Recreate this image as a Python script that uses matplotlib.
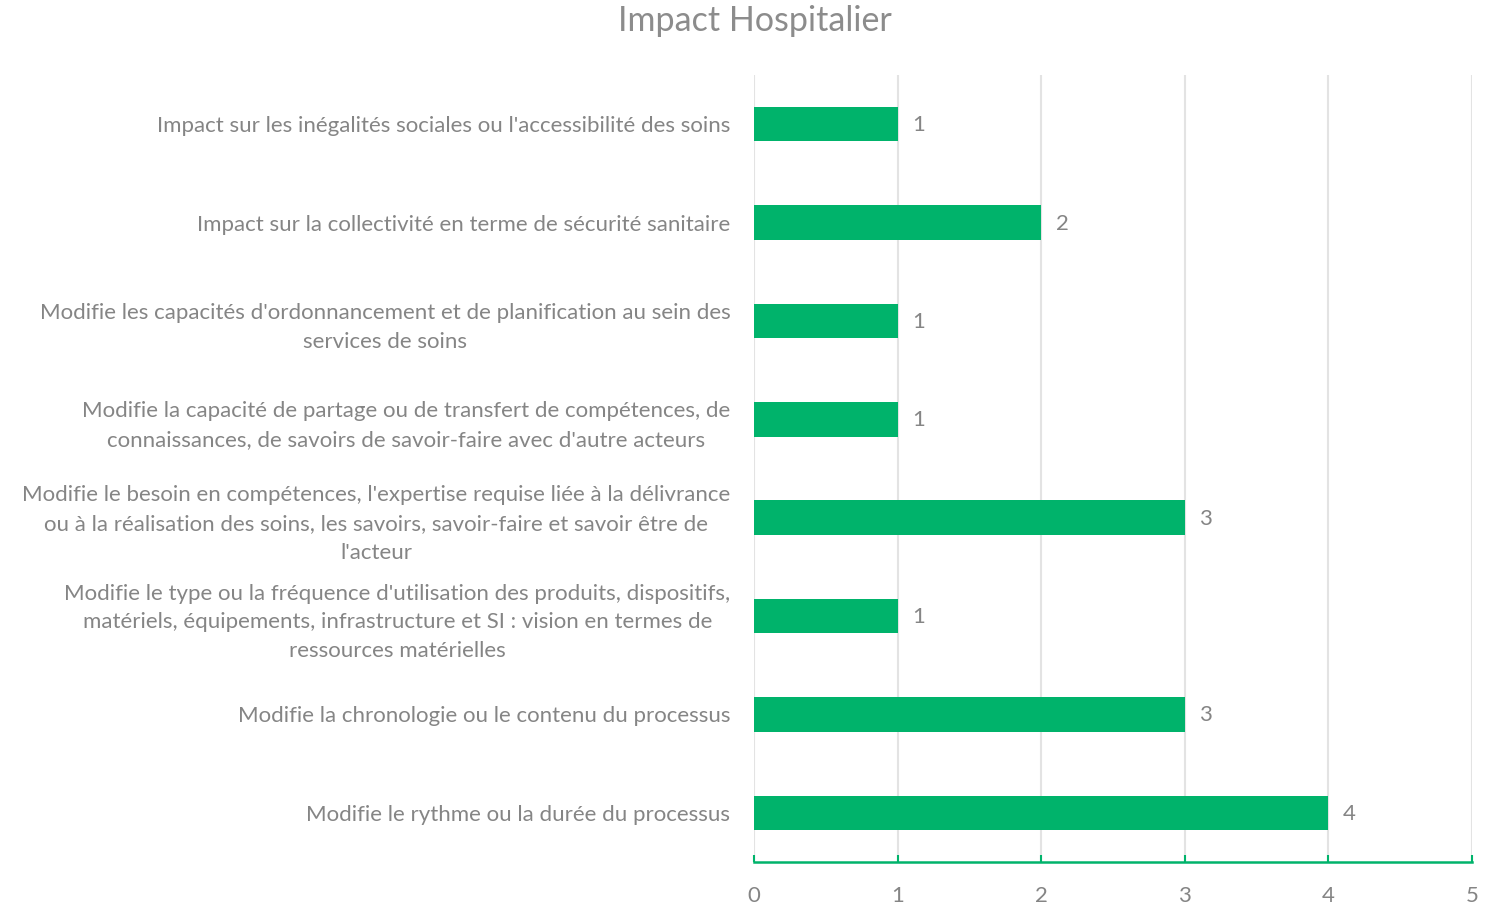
import matplotlib.pyplot as plt

plt.rcParams['font.family'] = ['Lato', 'DejaVu Sans']

categories = [
    "Impact sur les inégalités sociales ou l'accessibilité des soins",
    "Impact sur la collectivité en terme de sécurité sanitaire",
    "Modifie les capacités d'ordonnancement et de planification au sein des\nservices de soins",
    "Modifie la capacité de partage ou de transfert de compétences, de\nconnaissances, de savoirs de savoir-faire avec d'autre acteurs",
    "Modifie le besoin en compétences, l'expertise requise liée à la délivrance\nou à la réalisation des soins, les savoirs, savoir-faire et savoir être de\nl'acteur",
    "Modifie le type ou la fréquence d'utilisation des produits, dispositifs,\nmatériels, équipements, infrastructure et SI : vision en termes de\nressources matérielles",
    "Modifie la chronologie ou le contenu du processus",
    "Modifie le rythme ou la durée du processus",
]
values = [1, 2, 1, 1, 3, 1, 3, 4]
xticks = [0, 1, 2, 3, 4, 5]

green = '#00B36B'
grey = '#858585'

fig = plt.figure(figsize=(14.86, 9.06), dpi=100)
ax = fig.add_axes([754 / 1486, 44 / 906, 718 / 1486, 787 / 906])

pos = list(range(len(categories)))
ax.barh(pos, values, height=0.35, color=green, zorder=3)
for p, v in zip(pos, values):
    ax.text(v + 0.1, p + 0.01, str(v), va='center', ha='left', fontsize=16, color=grey)

ax.set_ylim(len(categories) - 0.5, -0.5)
ax.set_xlim(0, 5)
ax.set_xticks(xticks)
ax.set_yticks(pos)
ax.set_yticklabels(categories, fontsize=16, color=grey, multialignment='center', linespacing=1.55)
ax.tick_params(axis='y', length=0, pad=17)
ax.tick_params(axis='x', direction='in', length=5, width=1.5, color=green, pad=17,
               labelsize=16, labelcolor=grey)

ax.grid(axis='x', color='#E3E3E3', linewidth=1.5, zorder=0)
for s in ['top', 'left', 'right']:
    ax.spines[s].set_visible(False)
ax.spines['bottom'].set_color(green)
ax.spines['bottom'].set_linewidth(1.8)

fig.text(755 / 1486, 1 - 21 / 906, 'Impact Hospitalier', ha='center', va='center',
         fontsize=24.5, color='#8C8C8C')

fig.savefig('out.png', dpi=100)
